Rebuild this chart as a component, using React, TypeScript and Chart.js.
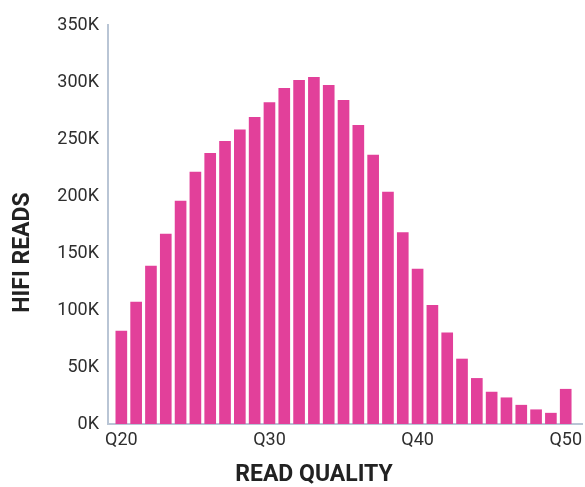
import React, { useEffect, useRef } from "react";
import { Chart, registerables } from "chart.js";

Chart.register(...registerables);

const quality = [20, 21, 22, 23, 24, 25, 26, 27, 28, 29, 30, 31, 32, 33, 34, 35, 36, 37, 38, 39, 40, 41, 42, 43, 44, 45, 46, 47, 48, 49, 50];
const reads = [81500, 107000, 138500, 166500, 195500, 221000, 237500, 248000, 258000, 269000, 282000, 294500, 301500, 304000, 297000, 284000, 262000, 236000, 203500, 168000, 136000, 104000, 80000, 57000, 40000, 28000, 23000, 16500, 12500, 9500, 30500];
const xTickValues = [20, 30, 40, 50];
const xTickLabels = ["Q20", "Q30", "Q40", "Q50"];
const yTickLabels = ["0K", "50K", "100K", "150K", "200K", "250K", "300K", "350K"];
const xTitle = "READ QUALITY";
const yTitle = "HIFI READS";

const BAR_COLOR = "#e2409a";
const AXIS_COLOR = "#b9c5d5";
const TEXT_COLOR = "#2e2e2e";
const TITLE_COLOR = "#222222";

export default function App() {
  const ref = useRef<HTMLCanvasElement | null>(null);

  useEffect(() => {
    if (!ref.current) return;
    const chart = new Chart(ref.current, {
      type: "bar",
      data: {
        datasets: [
          {
            data: quality.map((q, i) => ({ x: q, y: reads[i] })),
            backgroundColor: BAR_COLOR,
            borderWidth: 0,
            barThickness: 11,
          },
        ],
      },
      options: {
        animation: false,
        responsive: false,
        devicePixelRatio: 1,
        layout: { padding: { left: 43, top: 18, right: 0, bottom: 0 } },
        plugins: {
          legend: { display: false },
          tooltip: { enabled: false },
          title: {
            display: true,
            position: "bottom",
            text: xTitle,
            color: TITLE_COLOR,
            font: { family: "Roboto", size: 23, weight: "bold", lineHeight: 1 },
            padding: { top: 0, bottom: 0 },
          },
          subtitle: {
            display: true,
            position: "left",
            text: yTitle,
            color: TITLE_COLOR,
            font: { family: "Roboto", size: 23, weight: "bold", lineHeight: 1 },
            padding: { top: -31, bottom: 8 },
          },
        },
        scales: {
          x: {
            type: "linear",
            min: 19.1,
            max: 51.1,
            offset: false,
            grid: { display: false, drawTicks: false },
            border: { display: true, color: AXIS_COLOR, width: 2 },
            afterBuildTicks: (s: any) => {
              s.ticks = xTickValues.map((v) => ({ value: v }));
            },
            afterFit: (s: any) => {
              s.height = 40;
              s.paddingLeft = 0;
              s.paddingRight = 3;
            },
            ticks: {
              autoSkip: false,
              maxRotation: 0,
              padding: 6,
              color: TEXT_COLOR,
              font: { family: "Roboto", size: 18 },
              callback: (v: any) => xTickLabels[xTickValues.indexOf(Number(v))],
            },
          },
          y: {
            type: "linear",
            min: 0,
            max: 350000,
            grid: { display: false, drawTicks: false },
            border: { display: true, color: AXIS_COLOR, width: 2 },
            afterFit: (s: any) => {
              s.width = 65;
              s.paddingTop = 25;
              s.paddingBottom = 0;
            },
            ticks: {
              stepSize: 50000,
              padding: 9,
              color: TEXT_COLOR,
              font: { family: "Roboto", size: 18 },
              callback: (_v: any, i: number) => yTickLabels[i],
            },
          },
        },
      },
    });
    return () => chart.destroy();
  }, []);

  return (
    <div style={{ position: "fixed", left: 0, top: 0, width: 585, height: 487, background: "#fff" }}>
      <canvas ref={ref} width={585} height={487} />
    </div>
  );
}
